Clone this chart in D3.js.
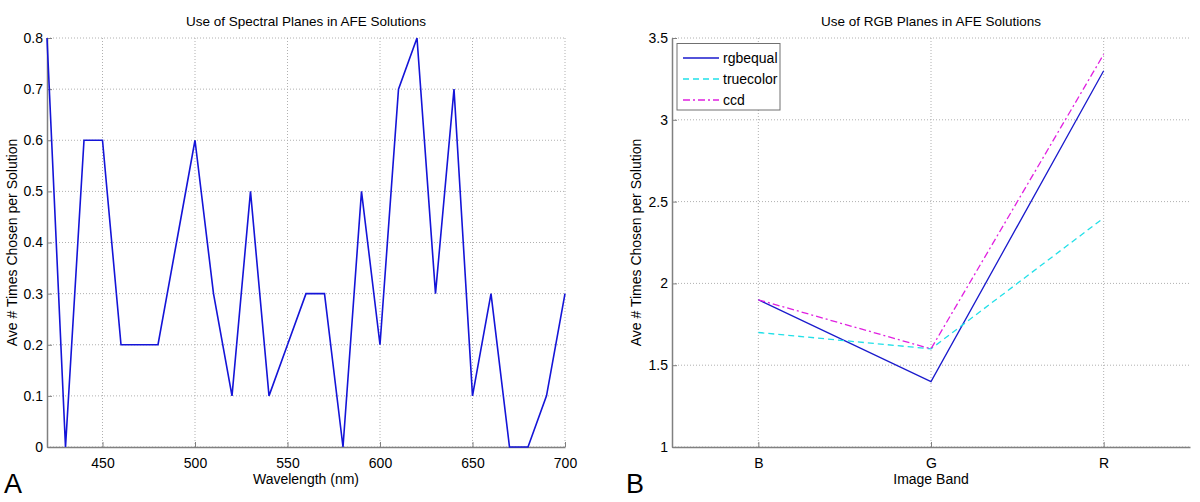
<!DOCTYPE html>
<html><head><meta charset="utf-8">
<script src="https://cdn.jsdelivr.net/npm/d3@7"></script>
<style>
body{margin:0;background:#fff;}
svg text{font-family:"Liberation Sans",Arial,sans-serif;fill:#000;}
</style></head>
<body><svg id="c" width="1200" height="502"></svg>
<script>
// ---- Data ----
const wavelengths = [420,430,440,450,460,470,480,490,500,510,520,530,540,550,560,570,580,590,600,610,620,630,640,650,660,670,680,690,700];
const spectralUse = [0.8,0,0.6,0.6,0.2,0.2,0.2,0.4,0.6,0.3,0.1,0.5,0.1,0.2,0.3,0.3,0,0.5,0.2,0.7,0.8,0.3,0.7,0.1,0.3,0,0,0.1,0.3];
const xTicksA = [450,500,550,600,650,700];
const yTicksA = [0,0.1,0.2,0.3,0.4,0.5,0.6,0.7,0.8];

const bands = ["B","G","R"];
const seriesNames = ["rgbequal","truecolor","ccd"];
const rgbequal = [1.9,1.4,3.3];
const truecolor = [1.7,1.6,2.4];
const ccd = [1.9,1.6,3.4];
const yTicksB = [1,1.5,2,2.5,3,3.5];

const svg = d3.select("#c");
const gridCol = "#b0b0b0", axisCol = "#808080";

function drawPanel(o){
  const g = svg.append("g");
  const {x,y,left,right,top,bottom} = o;
  o.yTicks.forEach(t=>{
    g.append("line").attr("x1",left).attr("x2",right).attr("y1",y(t)).attr("y2",y(t))
      .attr("stroke",gridCol).attr("stroke-dasharray","1,2").attr("stroke-width",1);
  });
  o.xTicks.forEach(t=>{
    g.append("line").attr("x1",x(t)).attr("x2",x(t)).attr("y1",top).attr("y2",bottom)
      .attr("stroke",gridCol).attr("stroke-dasharray","1,2").attr("stroke-width",1);
  });
  const ax = d3.axisBottom(x).tickValues(o.xTicks).tickSizeInner(-5).tickSizeOuter(0).tickPadding(11).tickFormat(o.xFmt);
  const gx = g.append("g").attr("transform",`translate(0,${bottom})`).call(ax);
  const ay = d3.axisLeft(y).tickValues(o.yTicks).tickSizeInner(-5).tickSizeOuter(0).tickPadding(4).tickFormat(o.yFmt);
  const gy = g.append("g").attr("transform",`translate(${left},0)`).call(ay);
  [gx,gy].forEach(a=>{
    a.select(".domain").attr("stroke",axisCol).attr("stroke-width",1.5);
    a.selectAll(".tick line").attr("stroke",axisCol);
    a.selectAll("text").attr("font-size",14).attr("font-family","Liberation Sans, Arial, sans-serif").attr("fill","#000");
  });
  const cx = (left+right)/2;
  g.append("text").attr("x",cx).attr("y",26).attr("text-anchor","middle").attr("font-size",13.5).text(o.title);
  g.append("text").attr("x",cx).attr("y",484).attr("text-anchor","middle").attr("font-size",14).text(o.xLabel);
  g.append("text").attr("transform",`translate(${o.yLabelX},${(top+bottom)/2}) rotate(-90)`).attr("text-anchor","middle").attr("font-size",14).text("Ave # Times Chosen per Solution");
  g.append("text").attr("x",o.letterX).attr("y",493).attr("font-size",27).text(o.letter);
  return g;
}

// Panel A
const xA = d3.scaleLinear().domain([420,700]).range([47,565]);
const yA = d3.scaleLinear().domain([0,0.8]).range([447,38]);
const gA = drawPanel({x:xA,y:yA,left:47,right:565,top:38,bottom:447,xTicks:xTicksA,yTicks:yTicksA,
  xFmt:d3.format("d"),yFmt:d=>d===0?"0":d3.format(".1f")(d),
  title:"Use of Spectral Planes in AFE Solutions",xLabel:"Wavelength (nm)",yLabelX:17,letter:"A",letterX:4});
gA.append("path").datum(wavelengths.map((w,i)=>[w,spectralUse[i]]))
  .attr("d",d3.line().x(d=>xA(d[0])).y(d=>yA(d[1])))
  .attr("fill","none").attr("stroke","#1414d8").attr("stroke-width",1.6).attr("stroke-linejoin","miter");

// Panel B
const xB = d3.scaleLinear().domain([0.5,3.5]).range([672,1190]);
const yB = d3.scaleLinear().domain([1,3.5]).range([447,38]);
const gB = drawPanel({x:xB,y:yB,left:672,right:1190,top:38,bottom:447,xTicks:[1,2,3],yTicks:yTicksB,
  xFmt:d=>bands[d-1],yFmt:d=>d3.format("")(d),
  title:"Use of RGB Planes in AFE Solutions",xLabel:"Image Band",yLabelX:641,letter:"B",letterX:626});
const seriesData = [rgbequal,truecolor,ccd];
const colors = ["#1a1acc","#22e0e8","#e020e0"];
const dashes = [null,"6,4","7,3,2,3"];
seriesData.forEach((s,k)=>{
  gB.append("path").datum(s.map((v,i)=>[i+1,v]))
    .attr("d",d3.line().x(d=>xB(d[0])).y(d=>yB(d[1])))
    .attr("fill","none").attr("stroke",colors[k]).attr("stroke-width",1.3)
    .attr("stroke-dasharray",dashes[k]);
});
const lg = gB.append("g");
lg.append("rect").attr("x",677).attr("y",43.5).attr("width",103).attr("height",66.5)
  .attr("fill","#fff").attr("stroke","#707070").attr("stroke-width",1);
seriesNames.forEach((n,k)=>{
  const yy = 58 + k*21;
  lg.append("line").attr("x1",683).attr("x2",719).attr("y1",yy).attr("y2",yy)
    .attr("stroke",colors[k]).attr("stroke-width",1.3).attr("stroke-dasharray",dashes[k]);
  lg.append("text").attr("x",723).attr("y",yy+5).attr("font-size",14).text(n);
});
</script></body></html>
